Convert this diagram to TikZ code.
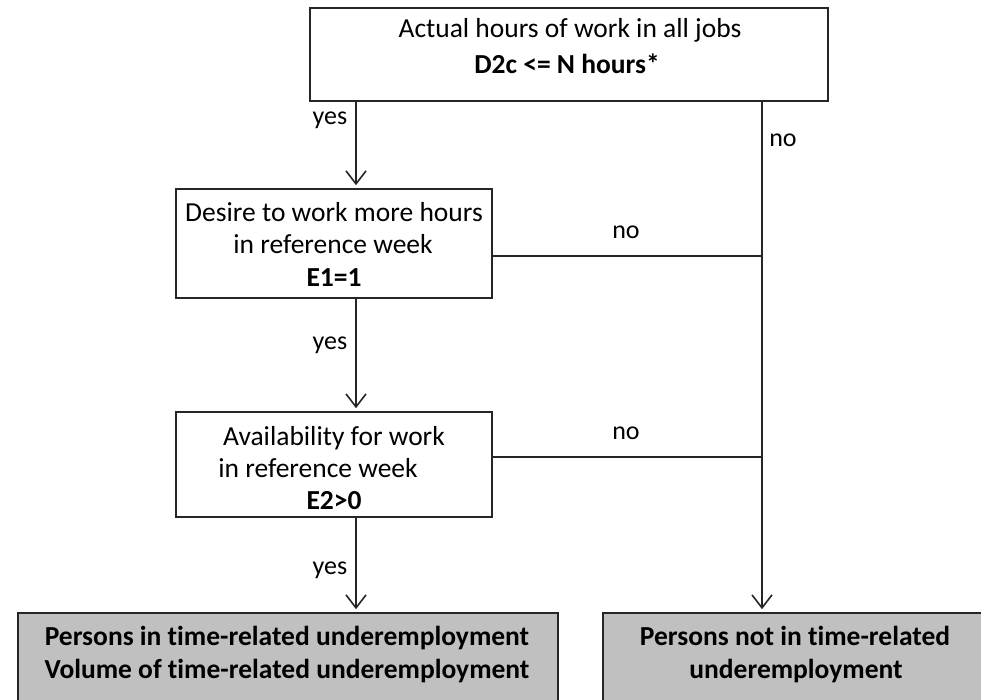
\documentclass[tikz,border=0pt]{standalone}
\usepackage{fontspec}
\setmainfont{Carlito}[Ligatures={NoCommon}]
\usetikzlibrary{arrows.meta}
\definecolor{boxgray}{RGB}{192,192,192}
\definecolor{linec}{RGB}{38,38,38}
\begin{document}
\begin{tikzpicture}[x=1pt,y=-1pt,
  box/.style={draw=linec, line width=1.6pt, rectangle, inner sep=0pt},
  outbox/.style={box, fill=boxgray},
  txt/.style={anchor=base, inner sep=0pt, text=black, font=\fontsize{27.5}{33}\selectfont},
  btxt/.style={txt, font=\fontsize{27.5}{33}\selectfont\bfseries},
  lbl/.style={anchor=base, inner sep=0pt, text=black, font=\fontsize{26}{31}\selectfont},
  conn/.style={draw=linec, line width=1.6pt},
  arr/.style={conn, shorten >=3pt, -{Straight Barb[length=13pt, width=20pt, line width=1.6pt]}}]
\useasboundingbox (0,0) rectangle (981,700);
\clip (0,0) rectangle (981,700);
\fill[white] (0,0) rectangle (981,700);

% boxes
\node[box, minimum width=518pt, minimum height=93pt] (q1) at (569,54.5) {};
\node[box, minimum width=316pt, minimum height=109pt] (q2) at (334,243.5) {};
\node[box, minimum width=316pt, minimum height=105pt] (q3) at (334,464.5) {};
\node[outbox, minimum width=540pt, minimum height=100pt] (r1) at (288,663) {};
\node[outbox, minimum width=390pt, minimum height=100pt] (r2) at (798,663) {};

% texts
\node[txt] (q1a) at (570,38) {Actual hours of work in all jobs};
\node[btxt] (q1b) at (567,74) {D2c <= N hours*};
\node[txt] (q2a) at (334,222) {Desire to work more hours};
\node[txt] (q2b) at (333,254) {in reference week};
\node[btxt] (q2c) at (334,287) {E1=1};
\node[txt] (q3a) at (334,445) {Availability for work};
\node[txt] (q3b) at (318,477) {in reference week};
\node[btxt] (q3c) at (334,509) {E2>0};
\node[btxt] (r1a) at (287,645) {Persons in time-related underemployment};
\node[btxt] (r1b) at (287,678) {Volume of time-related underemployment};
\node[btxt] (r2a) at (795,645) {Persons not in time-related};
\node[btxt] (r2b) at (796,678) {underemployment};

% columns and rows
\coordinate (colL) at (356,0);
\coordinate (colR) at (762,0);
\coordinate (row1) at (0,256);
\coordinate (row2) at (0,457);

% connectors
\draw[arr] (q1.south -| colL) -- (q2.north -| colL);
\draw[arr] (q2.south -| colL) -- (q3.north -| colL);
\draw[arr] (q3.south -| colL) -- (r1.north -| colL);
\draw[arr] (q1.south -| colR) -- (r2.north -| colR);
\draw[conn] (q2.east |- row1) -- (colR |- row1);
\draw[conn] (q3.east |- row2) -- (colR |- row2);

% labels
\node[lbl] (y1) at (330,125) {yes};
\node[lbl] (y2) at (330,349) {yes};
\node[lbl] (y3) at (330,574) {yes};
\node[lbl] (n1) at (783,147) {no};
\node[lbl] (n2) at (626,239) {no};
\node[lbl] (n3) at (626,439) {no};
\end{tikzpicture}
\end{document}
